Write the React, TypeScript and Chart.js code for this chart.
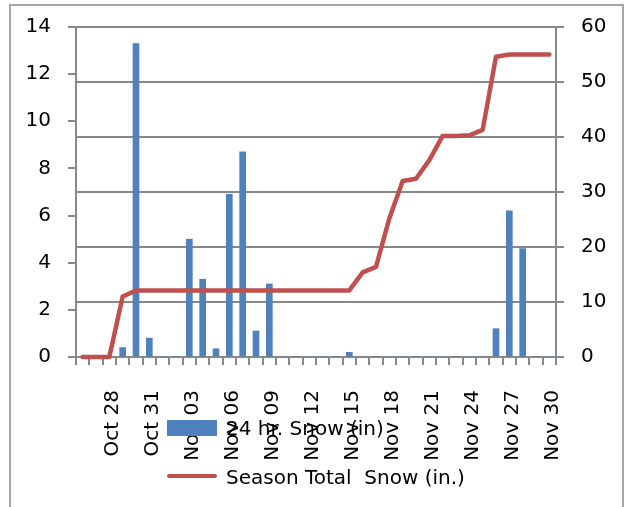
import React, { useEffect, useRef } from "react";
import { Chart, registerables } from "chart.js";

Chart.register(...registerables);

const categories: string[] = [
  "Oct 26", "Oct 27", "Oct 28", "Oct 29", "Oct 30", "Oct 31",
  "Nov 01", "Nov 02", "Nov 03", "Nov 04", "Nov 05", "Nov 06",
  "Nov 07", "Nov 08", "Nov 09", "Nov 10", "Nov 11", "Nov 12",
  "Nov 13", "Nov 14", "Nov 15", "Nov 16", "Nov 17", "Nov 18",
  "Nov 19", "Nov 20", "Nov 21", "Nov 22", "Nov 23", "Nov 24",
  "Nov 25", "Nov 26", "Nov 27", "Nov 28", "Nov 29", "Nov 30",
];

const shownTickLabels: string[] = [
  "Oct 28", "Oct 31", "Nov 03", "Nov 06", "Nov 09", "Nov 12",
  "Nov 15", "Nov 18", "Nov 21", "Nov 24", "Nov 27", "Nov 30",
];

const snow24: number[] = [
  0, 0, 0, 0.4, 13.3, 0.8,
  0, 0, 5.0, 3.3, 0.35, 6.9,
  8.7, 1.1, 3.1, 0, 0, 0,
  0, 0, 0.2, 0, 0, 0,
  0, 0, 0, 0, 0, 0,
  0, 1.2, 6.2, 4.6, 0, 0,
];

const seasonTotal: number[] = [
  0, 0, 0, 11.0, 12.1, 12.1,
  12.1, 12.1, 12.1, 12.1, 12.1, 12.1,
  12.1, 12.1, 12.1, 12.1, 12.1, 12.1,
  12.1, 12.1, 12.1, 15.4, 16.4, 25.2,
  32.0, 32.4, 35.8, 40.2, 40.2, 40.3,
  41.3, 54.6, 55.0, 55.0, 55.0, 55.0,
];

const seriesNames = ["24 hr. Snow (in)", "Season Total  Snow (in.)"];

const FONT = "'DejaVu Sans', sans-serif";
const GRID = "#888888";
const BLUE = "#4F81BD";
const RED = "#C0504D";

const legendPlugin = {
  id: "excelLegend",
  afterDraw(chart: any) {
    const ctx = chart.ctx;
    const ds = chart.data.datasets;
    ctx.save();
    ctx.font = `20px ${FONT}`;
    ctx.textBaseline = "middle";
    ctx.textAlign = "left";
    ctx.fillStyle = ds[0].backgroundColor;
    ctx.fillRect(167, 420, 50, 16);
    ctx.fillStyle = "#000";
    ctx.fillText(ds[0].label, 226, 430);
    ctx.strokeStyle = ds[1].borderColor;
    ctx.lineWidth = 4;
    ctx.lineCap = "round";
    ctx.beginPath();
    ctx.moveTo(169, 476);
    ctx.lineTo(215, 476);
    ctx.stroke();
    ctx.fillStyle = "#000";
    ctx.fillText(ds[1].label, 226, 479);
    ctx.restore();
  },
};

export default function App() {
  const canvasRef = useRef<HTMLCanvasElement | null>(null);

  useEffect(() => {
    if (!canvasRef.current) return;
    const noPad = (s: any) => {
      s.paddingTop = 0;
      s.paddingBottom = 0;
      s.paddingLeft = 0;
      s.paddingRight = 0;
    };
    const chart = new Chart(canvasRef.current, {
      type: "bar",
      data: {
        labels: categories,
        datasets: [
          {
            type: "bar",
            label: seriesNames[0],
            data: snow24,
            backgroundColor: BLUE,
            barThickness: 6,
            yAxisID: "y",
            order: 1,
          },
          {
            type: "line",
            label: seriesNames[1],
            data: seasonTotal,
            borderColor: RED,
            backgroundColor: RED,
            borderWidth: 4.5,
            borderCapStyle: "round",
            borderJoinStyle: "round",
            pointRadius: 0,
            tension: 0,
            yAxisID: "y1",
            order: 0,
            clip: false,
          } as any,
        ],
      },
      options: {
        responsive: false,
        animation: false,
        layout: { padding: { top: 27, left: 0, right: 0, bottom: 0 } },
        plugins: {
          legend: { display: false },
          tooltip: { enabled: false },
        },
        scales: {
          x: {
            offset: true,
            afterFit: (s: any) => {
              s.height = 150;
              noPad(s);
            },
            grid: {
              offset: true,
              drawOnChartArea: false,
              drawTicks: true,
              tickLength: 8,
              color: GRID,
              lineWidth: 2,
            },
            border: { display: true, color: GRID, width: 2 },
            ticks: {
              autoSkip: false,
              maxRotation: 90,
              minRotation: 90,
              padding: 25,
              labelOffset: 3,
              color: "#000",
              font: { family: FONT, size: 20 },
              callback: (_v: any, i: number) =>
                shownTickLabels.includes(categories[i]) ? categories[i] : "",
            },
          },
          y: {
            position: "left",
            min: 0,
            max: 14,
            afterFit: (s: any) => {
              s.width = 76;
              noPad(s);
            },
            grid: {
              drawOnChartArea: false,
              drawTicks: true,
              tickLength: 8,
              color: GRID,
              lineWidth: 2,
            },
            border: { display: true, color: GRID, width: 2 },
            ticks: {
              stepSize: 2,
              padding: 17,
              color: "#000",
              font: { family: FONT, size: 20 },
            },
          },
          y1: {
            position: "right",
            min: 0,
            max: 60,
            afterFit: (s: any) => {
              s.width = 73;
              noPad(s);
            },
            grid: {
              drawOnChartArea: true,
              drawTicks: true,
              tickLength: 8,
              color: GRID,
              lineWidth: 2,
            },
            border: { display: true, color: GRID, width: 2 },
            ticks: {
              stepSize: 10,
              padding: 17,
              color: "#000",
              font: { family: FONT, size: 20 },
            },
          },
        },
      },
      plugins: [legendPlugin],
    });
    return () => chart.destroy();
  }, []);

  return (
    <div
      style={{
        position: "fixed",
        left: 0,
        top: 0,
        width: 629,
        height: 507,
        overflow: "hidden",
        background: "#fff",
      }}
    >
      <div
        style={{
          position: "absolute",
          left: 9,
          top: 4,
          width: 611,
          height: 600,
          border: "2px solid #a6a6a6",
        }}
      />
      <canvas
        ref={canvasRef}
        width={629}
        height={507}
        style={{ position: "absolute", left: 0, top: 0, display: "block" }}
      />
    </div>
  );
}
